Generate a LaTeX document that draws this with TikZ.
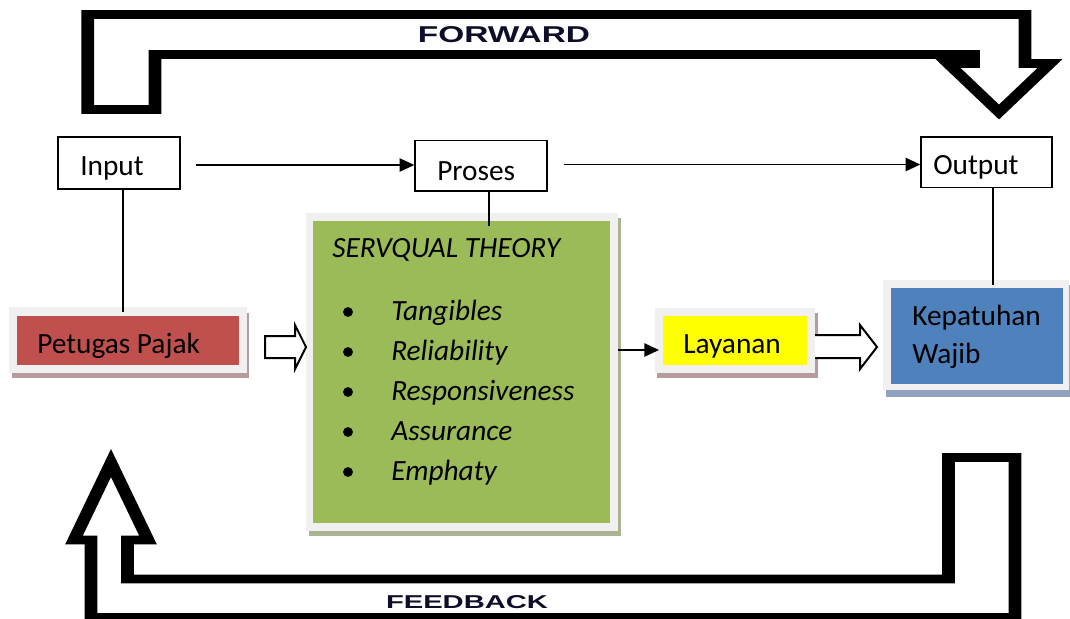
\documentclass[tikz,border=0pt]{standalone}
\usepackage{fontspec}
\setmainfont{Carlito}
\newfontfamily\bannerfont{Liberation Sans}
\usetikzlibrary{arrows.meta,fit,calc}

\definecolor{frameGray}{RGB}{240,240,240}
\definecolor{redFill}{RGB}{192,80,77}
\definecolor{redShadow}{RGB}{184,156,156}
\definecolor{greenFill}{RGB}{155,187,89}
\definecolor{greenShadow}{RGB}{168,180,146}
\definecolor{blueFill}{RGB}{79,129,189}
\definecolor{blueShadow}{RGB}{143,162,190}
\definecolor{yellowFill}{RGB}{255,255,0}
\definecolor{bannerInk}{RGB}{14,14,40}

\tikzset{
  conn/.style={line width=1.1pt, -{Triangle[length=11pt,width=10pt]}},
  link/.style={line width=1.1pt},
  plainbox/.style={draw, line width=1.1pt, fill=white, inner sep=0pt},
  card/.style={inner sep=0pt, outer sep=0pt},
  lbl/.style={font=\fontsize{22pt}{26pt}\selectfont, inner sep=0pt, anchor=base west},
  listtext/.style={lbl, font=\fontsize{22pt}{26pt}\selectfont\itshape},
  banner/.style={line width=6.4pt, miter limit=10, line join=miter},
  blockarrow/.style={line width=1.5pt, line join=miter},
  bannertext/.style={inner sep=0pt, text=bannerInk},
}

\begin{document}
\begin{tikzpicture}[x=0.75pt,y=-0.75pt]
\useasboundingbox (0,0) rectangle (1070,618);

% --- FORWARD band arrow (stretched horizontally, so its vertical strokes are heavier)
\begin{scope}[transform canvas={xscale=1.5}, x=0.5pt]
  \draw[banner] (87.75,14.5) -- (1025,14.5) -- (1025,63.5) -- (1050,63.5)
    -- (999,112) -- (948,63.5) -- (973.5,63.5) -- (973.5,54.5)
    -- (155,54.5) -- (155,109.5) -- (87.75,109.5) -- cycle;
\end{scope}
\node[bannertext] (fwdlabel) at (504,35)
  {\resizebox{129pt}{12pt}{\bannerfont\bfseries FORWARD}};

% --- FEEDBACK band arrow
\begin{scope}[transform canvas={xscale=1.5}, x=0.5pt]
  \draw[banner] (1015,457.5) -- (1015,617.5) -- (91,617.5) -- (91,540)
    -- (74,540) -- (111,463) -- (148,540) -- (127.5,540) -- (127.5,579)
    -- (948.5,579) -- (948.5,457.5) -- cycle;
\end{scope}
\node[bannertext] (fbklabel) at (467,602.5)
  {\resizebox{121.5pt}{9.75pt}{\bannerfont\bfseries FEEDBACK}};

% --- top row: Input, Proses, Output
\node[plainbox, fit={(58,137) (180,189)}] (input) {};
\node[lbl] (inputtxt) at (80,175) {Input};
\node[plainbox, fit={(415,140.5) (547,191)}] (proses) {};
\node[lbl] (prosestxt) at (437,180) {Proses};
\node[plainbox, fit={(921,137) (1052,187.5)}] (output) {};
\node[lbl] (outputtxt) at (933,174) {Output};

\draw[conn] ([xshift=11.25pt]input.east |- 0,165) -- (proses.west |- 0,165);
\draw[conn] ([xshift=12pt]proses.east |- 0,164.5) -- (output.west |- 0,164.5);

% --- Petugas Pajak card
\path[fill=redShadow] (12,313) rectangle (249,378);
\node[card, fill=frameGray, fit={(9,307) (247,373)}] (pframe) {};
\node[card, fill=redFill, fit={(17,316) (239,365)}] (petugas) {};
\node[lbl] (petugastxt) at (37,353) {Petugas Pajak};

% --- SERVQUAL card
\path[fill=greenShadow] (309,218) rectangle (621,536);
\node[card, fill=frameGray, fit={(306,213) (618,531)}] (gframe) {};
\node[card, fill=greenFill, fit={(313,221) (610,523)}] (green) {};
\node[listtext] (theory) at (332,257) {SERVQUAL THEORY};
\foreach \k/\word in {0/Tangibles,1/Reliability,2/Responsiveness,3/Assurance,4/Emphaty}{
  \fill (348,312+40*\k) circle[radius=3.7pt];
  \node[listtext] (dim\k) at (391,320+40*\k) {\word};
}

% --- Layanan card
\path[fill=redShadow] (657,313) rectangle (818,378);
\node[card, fill=frameGray, fit={(655,308) (815,373)}] (lframe) {};
\node[card, fill=yellowFill, fit={(663,316) (807,365)}] (layanan) {};
\node[lbl] (layanantxt) at (683,353) {Layanan};

% --- Kepatuhan Wajib card
\path[fill=blueShadow] (886,285) rectangle (1072,397);
\node[card, fill=frameGray, fit={(883,280) (1069,390)}] (kframe) {};
\node[card, fill=blueFill, fit={(891,288) (1063,384)}] (kepatuhan) {};
\node[lbl] (keptxt) at (912,325) {Kepatuhan};
\node[lbl] (wajibtxt) at (912,363) {Wajib};

% --- vertical links from the top row
\draw[link] ([xshift=3pt]input.south) -- ([xshift=3pt,yshift=3pt]input.south |- petugas.north);
\draw[link] ([xshift=6pt]proses.south) -- ([xshift=6pt,yshift=-3.75pt]proses.south |- green.north);
\draw[link] ([xshift=4.9pt]output.south) -- ([xshift=4.9pt,yshift=-3.75pt]output.south |- kframe.north);

% --- connectors between the cards
\draw[blockarrow, fill=white] (265,336) -- (295,336) -- (295,325) -- (306,347)
  -- (295,369) -- (295,358) -- (265,358) -- cycle;
\draw[conn] (gframe.east |- 0,350) -- ([xshift=3pt]lframe.west |- 0,350);
\fill[white] (815,335) -- (860,335) -- (860,325) -- (877,347)
  -- (860,369) -- (860,358) -- (815,358) -- cycle;
\draw[blockarrow] (lframe.east |- 0,335) -- (860,335) -- (860,325) -- (877,347)
  -- (860,369) -- (860,358) -- (lframe.east |- 0,358);

\end{tikzpicture}
\end{document}
